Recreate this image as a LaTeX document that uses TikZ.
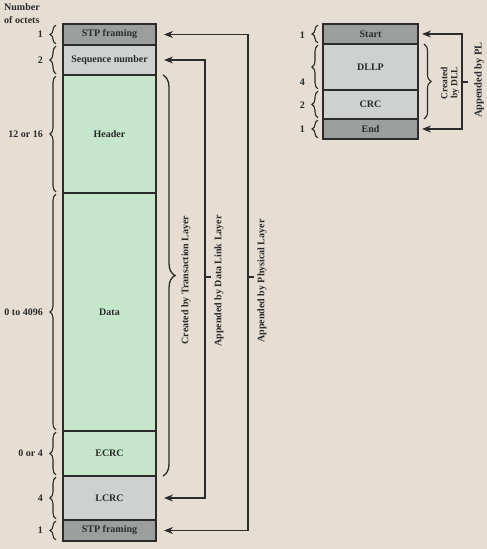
\documentclass[tikz,border=0pt]{standalone}
\usepackage{fontspec}
\setmainfont{Liberation Serif}
\usetikzlibrary{decorations.pathreplacing,arrows.meta,calc}
\definecolor{bg}{HTML}{E6DED3}
\definecolor{edge}{HTML}{2B2B2B}
\definecolor{txt}{HTML}{2A2A2A}
\definecolor{dgray}{HTML}{9C9D9D}
\definecolor{lgray}{HTML}{CFD0D0}
\definecolor{lgreen}{HTML}{C6E6CB}
\begin{document}
\begin{tikzpicture}[x=1pt,y=-1pt,
  box/.style={draw=edge, line width=1.2pt, inner sep=0pt, outer sep=0pt,
    text=txt, font=\fontsize{10}{12}\selectfont\bfseries},
  lbox/.style={box, minimum width=93pt},
  rbox/.style={box, minimum width=95pt},
  lbl/.style={text=txt, font=\fontsize{10}{12}\selectfont\bfseries, inner sep=0pt},
  rlbl/.style={lbl, rotate=90},
  lbrace/.style={draw=edge, decorate, decoration={brace, amplitude=6pt, aspect=0.5}, line width=1.1pt},
  tbrace/.style={draw=edge, decorate, decoration={brace, amplitude=12pt, aspect=0.5}, line width=1.3pt},
  line/.style={draw=edge, line width=1.2pt},
  arr/.style={line, {Stealth[length=9pt,width=7pt]}-{Stealth[length=9pt,width=7pt]}}
]
\useasboundingbox[fill=bg] (0,0) rectangle (487,549);

% ---- left packet ----
\node[lbox, fill=dgray,  minimum height=21pt]  (stp1) at (109.5,34.5) {STP framing};
\node[lbox, fill=lgray,  minimum height=30pt]  (seq)  at (109.5,60)   {Sequence number};
\node[lbox, fill=lgreen, minimum height=118pt] (hdr)  at (109.5,134)  {Header};
\node[lbox, fill=lgreen, minimum height=238pt] (data) at (109.5,312)  {Data};
\node[lbox, fill=lgreen, minimum height=45pt]  (ecrc) at (109.5,453.5){ECRC};
\node[lbox, fill=lgray,  minimum height=44pt]  (lcrc) at (109.5,498)  {LCRC};
\node[lbox, fill=dgray,  minimum height=21pt]  (stp2) at (109.5,530.5){STP framing};

\node[lbl, anchor=north west, align=left, font=\fontsize{10}{13}\selectfont\bfseries] (hdrtxt) at (4,3) {Number\\of octets};

\foreach \n/\t [count=\i] in {stp1/1, seq/2, hdr/12 or 16, data/0 to 4096, ecrc/0 or 4, lcrc/4, stp2/1}{
  \draw[lbrace] ($(\n.south west)+(-7,-1.2)$) -- ($(\n.north west)+(-7,1.2)$);
  \node[lbl, anchor=east] (ll\i) at ($(\n.west)+(-20,0)$) {\t};
}

\draw[tbrace] ($(hdr.north east)+(7,0)$) -- ($(ecrc.south east)+(7,0)$);
\node[rlbl] (tl) at (186,280) {Created by Transaction Layer};

\coordinate (dlx) at (205,277);
\coordinate (plx) at (248,277);
\draw[arr] ($(lcrc.east)+(8,0)$) -- (dlx |- lcrc.east) -- (dlx |- seq.east) -- ($(seq.east)+(8,0)$);
\draw[arr] ($(stp2.east)+(8,0)$) -- (plx |- stp2.east) -- (plx |- stp1.east) -- ($(stp1.east)+(8,0)$);
\draw[line] (dlx) -- ++(6,0);
\draw[line] (plx) -- ++(6,0);
\node[rlbl] (dll) at (219,281) {Appended by Data Link Layer};
\node[rlbl] (pll) at (262,281) {Appended by Physical Layer};

% ---- right packet ----
\node[rbox, fill=dgray, minimum height=20pt] (start) at (370.5,34)  {Start};
\node[rbox, fill=lgray, minimum height=46pt] (dllp)  at (370.5,67)  {DLLP};
\node[rbox, fill=lgray, minimum height=29pt] (crc)   at (370.5,104.5){CRC};
\node[rbox, fill=dgray, minimum height=20pt] (end)   at (370.5,129) {End};

\foreach \n in {start, dllp, crc, end}{
  \draw[lbrace] ($(\n.south west)+(-5,-1.2)$) -- ($(\n.north west)+(-5,1.2)$);
}
\node[lbl, anchor=east] (r1) at (305,35)  {1};
\node[lbl, anchor=east] (r2) at (305,82)  {4};
\node[lbl, anchor=east] (r3) at (305,105) {2};
\node[lbl, anchor=east] (r4) at (305,129) {1};

\draw[lbrace, decoration={brace, amplitude=7pt}] ($(dllp.north east)+(6,0)$) -- ($(crc.south east)+(6,0)$);
\node[rlbl, align=center, font=\fontsize{9.5}{10}\selectfont\bfseries] (cdll) at (450,83) {Created\\by DLL};

\coordinate (prx) at (462,82);
\draw[arr] ($(end.east)+(4,0)$) -- (prx |- end.east) -- (prx |- start.east) -- ($(start.east)+(4,0)$);
\draw[line] (prx) -- ++(6,0);
\node[rlbl, font=\fontsize{10.5}{12}\selectfont\bfseries] (apl) at (479,80) {Appended by PL};
\end{tikzpicture}
\end{document}
